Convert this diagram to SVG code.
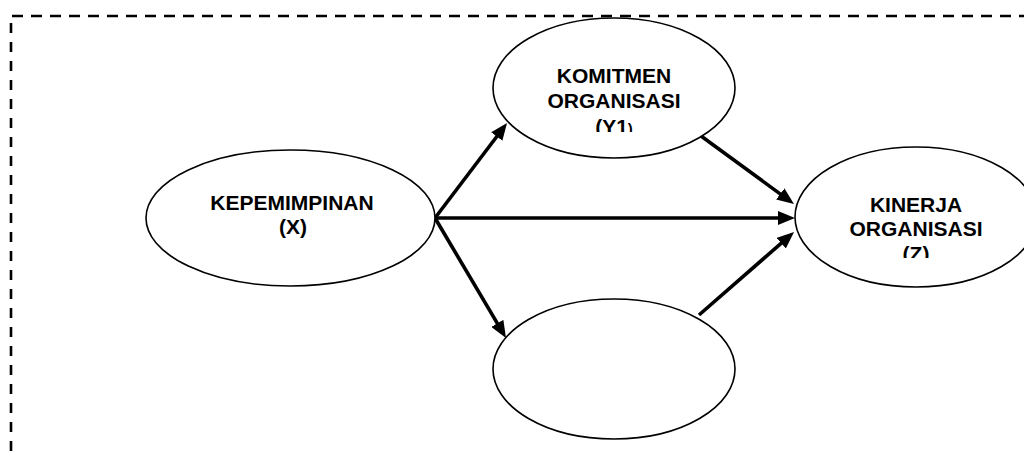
<svg xmlns="http://www.w3.org/2000/svg" width="1024" height="457" viewBox="0 0 1024 457">
<style>
.node{fill:#fff;stroke:#000;stroke-width:1.6}
.lbl{font-family:"Liberation Sans",Arial,sans-serif;font-weight:bold;font-size:21px;fill:#000;text-anchor:middle}
.edge{stroke:#000;stroke-width:3.6;fill:none;marker-end:url(#ah)}
.frame{stroke:#000;stroke-width:2.6;fill:none}
</style>
<defs>
<marker id="ah" markerUnits="userSpaceOnUse" markerWidth="17" markerHeight="14" refX="7" refY="7" orient="auto">
<path d="M0,0 L17,7 L0,14 z" fill="#000"/>
</marker>
<clipPath id="cy1"><rect x="480" y="0" width="270" height="132"/></clipPath>
<clipPath id="cz"><rect x="780" y="140" width="260" height="118"/></clipPath>
</defs>
<g id="frame">
<line class="frame" x1="12" y1="16" x2="1024" y2="16" stroke-dasharray="11 8"/>
<line class="frame" x1="11" y1="23" x2="11" y2="457" stroke-dasharray="10 9"/>
</g>
<g id="connectors">
<line class="edge" x1="435" y1="218" x2="501" y2="131"/>
<line class="edge" x1="435" y1="218" x2="785" y2="218"/>
<line class="edge" x1="435" y1="218" x2="500.9" y2="329.4"/>
<line class="edge" x1="701" y1="136" x2="785.9" y2="198.1"/>
<line class="edge" x1="699" y1="315" x2="786.5" y2="238.6"/>
</g>
<g id="node-x">
<ellipse class="node" cx="290.5" cy="218" rx="144.5" ry="68"/>
<text class="lbl" x="292" y="210">KEPEMIMPINAN</text>
<text class="lbl" x="293" y="234">(X)</text>
</g>
<g id="node-y1">
<ellipse class="node" cx="614" cy="88" rx="121" ry="70"/>
<g clip-path="url(#cy1)">
<text class="lbl" x="614" y="83">KOMITMEN</text>
<text class="lbl" x="614" y="108">ORGANISASI</text>
<text class="lbl" x="614" y="134">(Y1<tspan font-size="15">)</tspan></text>
</g>
</g>
<g id="node-z">
<ellipse class="node" cx="916" cy="217" rx="121" ry="70"/>
<g clip-path="url(#cz)">
<text class="lbl" x="916" y="212">KINERJA</text>
<text class="lbl" x="916" y="236">ORGANISASI</text>
<text class="lbl" x="916" y="261">(Z)</text>
</g>
</g>
<g id="node-y2">
<ellipse class="node" cx="614" cy="369" rx="121" ry="70"/>
</g>
</svg>
